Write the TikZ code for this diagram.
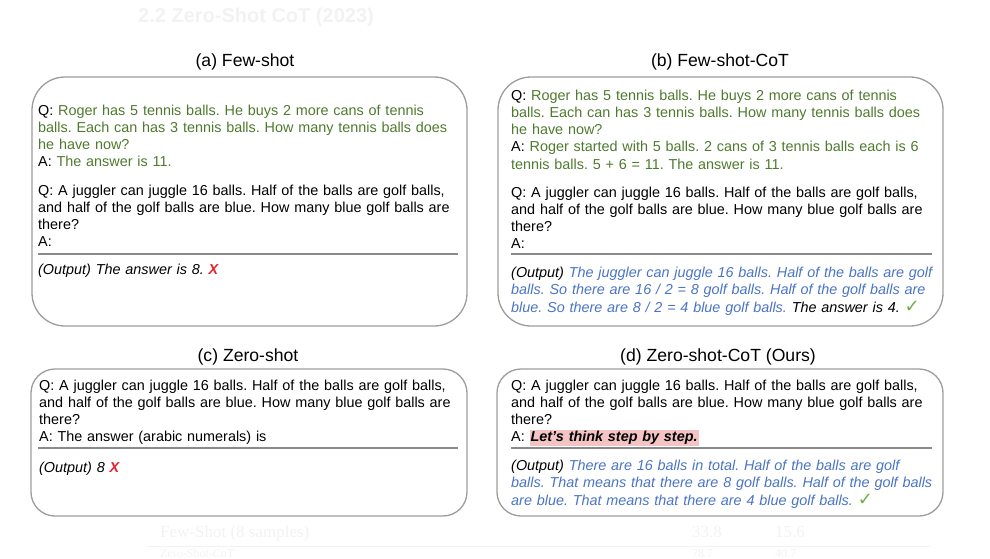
\documentclass[tikz,border=0pt]{standalone}
\usepackage{fontspec}
\setmainfont{Liberation Sans}
\newfontfamily\symfont{DejaVu Sans}
\newfontfamily\ghostserif{Liberation Serif}
\frenchspacing
\definecolor{qgreen}{HTML}{4E7A2E}
\definecolor{oblue}{HTML}{4A74C4}
\definecolor{xred}{HTML}{E8202A}
\definecolor{ckgreen}{HTML}{70AD47}
\definecolor{hlpink}{HTML}{F4C4C4}
\definecolor{boxgray}{HTML}{9C9C9C}
\definecolor{sepgray}{HTML}{8A8A8A}
\definecolor{ghost}{HTML}{F2F2F2}
\newcommand\jl[1]{\makebox[\linewidth][s]{#1}}
\newcommand\qa[1]{\textcolor{black}{#1}}
\newcommand\wrongmark{\textcolor{xred}{\bfseries\itshape X}}
\newcommand\okmark{\textcolor{ckgreen}{\fontsize{18}{18}\symfont ✓}}
\newcommand\hlbox[1]{{\setlength{\fboxsep}{1pt}\colorbox{hlpink}{\rule[-3pt]{0pt}{14pt}#1}}}
\begin{document}
\begin{tikzpicture}[x=1pt,y=-1pt,
  panel/.style={draw=boxgray,line width=1.3pt,inner sep=0pt},
  sep/.style={draw=sepgray,line width=1.4pt},
  body/.style={anchor=base west,inner sep=0pt,align=left,font=\fontsize{14.4}{17.3}\selectfont},
  ttl/.style={anchor=base,inner sep=0pt,font=\fontsize{17.6}{20}\selectfont},
  ghosttext/.style={anchor=base west,inner sep=0pt,text=ghost,font=\fontsize{17}{20}\ghostserif}]
\useasboundingbox (0,0) rectangle (990,558);
% faint background remnants
\node[anchor=base,inner sep=0pt,text=ghost,font=\fontsize{20}{24}\selectfont\bfseries] (g1) at (256,22) {2.2 Zero-Shot CoT (2023)};
\node[ghosttext] (g2) at (160,537) {Few-Shot (8 samples)};
\node[ghosttext] (g3) at (692,537) {33.8};
\node[ghosttext] (g4) at (775,537) {15.6};
\draw[ghost,line width=1pt] (147,546) -- (930,546);
\node[ghosttext,font=\fontsize{12}{14}\ghostserif] (g5) at (160,557) {Zero-Shot-CoT};
\node[ghosttext,font=\fontsize{12}{14}\ghostserif] (g6) at (692,557) {78.7};
\node[ghosttext,font=\fontsize{12}{14}\ghostserif] (g7) at (775,557) {40.7};
% titles
\node[ttl] (ta) at (245,66) {(a) Few-shot};
\node[ttl] (tb) at (720,66) {(b) Few-shot-CoT};
\node[ttl] (tc) at (248,361) {(c) Zero-shot};
\node[ttl] (td) at (718,361) {(d) Zero-shot-CoT (Ours)};
% panels
\node[panel,rounded corners=33pt,minimum width=435pt,minimum height=249pt] (boxa) at (249.5,201.5) {};
\node[panel,rounded corners=33pt,minimum width=445pt,minimum height=249pt] (boxb) at (720.5,201.5) {};
\node[panel,rounded corners=24pt,minimum width=436pt,minimum height=147pt] (boxc) at (249,442.5) {};
\node[panel,rounded corners=24pt,minimum width=446pt,minimum height=147pt] (boxd) at (720,442.5) {};
\draw[sep] (38,254) -- (458,254);
\draw[sep] (511,254) -- (932,254);
\draw[sep] (38,448) -- (458,448);
\draw[sep] (511,448) -- (932,448);
% (a)
\node[body,text width=414pt,text=qgreen] (aq1) at (38,115) {%
\jl{\qa{Q:} Roger has 5 tennis balls. He buys 2 more cans of tennis}\\
\jl{balls. Each can has 3 tennis balls. How many tennis balls does}\\
he have now?\\
\qa{A:} The answer is 11.};
\node[body,text width=414pt] (aq2) at (38,195) {%
\jl{Q: A juggler can juggle 16 balls. Half of the balls are golf balls,}\\
\jl{and half of the golf balls are blue. How many blue golf balls are}\\
there?\\
A:};
\node[body,text width=414pt] (aout) at (38,274) {\itshape (Output) The answer is 8. \wrongmark};
% (b)
\node[body,text width=421pt,text=qgreen] (bq1) at (511,100) {%
\jl{\qa{Q:} Roger has 5 tennis balls. He buys 2 more cans of tennis}\\
\jl{balls. Each can has 3 tennis balls. How many tennis balls does}\\
he have now?\\
\jl{\qa{A:} Roger started with 5 balls. 2 cans of 3 tennis balls each is 6}\\
tennis balls. 5 + 6 = 11. The answer is 11.};
\node[body,text width=421pt] (bq2) at (511,197) {%
\jl{Q: A juggler can juggle 16 balls. Half of the balls are golf balls,}\\
\jl{and half of the golf balls are blue. How many blue golf balls are}\\
there?\\
A:};
\node[body,text width=421pt,font=\fontsize{14.4}{17.5}\selectfont\itshape] (bout) at (511,277) {%
\jl{(Output) \textcolor{oblue}{The juggler can juggle 16 balls. Half of the balls are golf}}\\
\jl{\textcolor{oblue}{balls. So there are 16 / 2 = 8 golf balls. Half of the golf balls are}}\\
\textcolor{oblue}{blue. So there are 8 / 2 = 4 blue golf balls.} The answer is 4. \okmark};
% (c)
\node[body,text width=418pt] (cq) at (39,390) {%
\jl{Q: A juggler can juggle 16 balls. Half of the balls are golf balls,}\\
\jl{and half of the golf balls are blue. How many blue golf balls are}\\
there?\\
A: The answer (arabic numerals) is};
\node[body,text width=418pt] (cout) at (39,472) {\itshape (Output) 8 \wrongmark};
% (d)
\node[body,text width=421pt] (dq) at (511,390) {%
\jl{Q: A juggler can juggle 16 balls. Half of the balls are golf balls,}\\
\jl{and half of the golf balls are blue. How many blue golf balls are}\\
there?\\
A: \hlbox{\bfseries\itshape Let's think step by step.}};
\node[body,text width=421pt,font=\fontsize{14.4}{17.5}\selectfont\itshape] (dout) at (511,470) {%
\jl{(Output) \textcolor{oblue}{There are 16 balls in total. Half of the balls are golf}}\\
\jl{\textcolor{oblue}{balls. That means that there are 8 golf balls. Half of the golf balls}}\\
\textcolor{oblue}{are blue. That means that there are 4 blue golf balls.} \okmark};
\end{tikzpicture}
\end{document}
